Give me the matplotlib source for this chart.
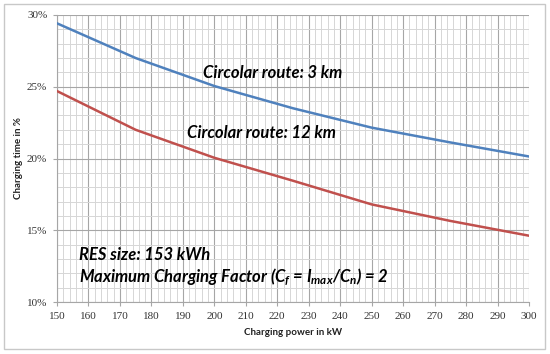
import matplotlib
matplotlib.use("Agg")
import matplotlib.pyplot as plt
from matplotlib.ticker import MultipleLocator, FuncFormatter
from matplotlib.patches import Rectangle

power_kw = [150, 175, 200, 225, 250, 275, 300]
route_3km = [29.42, 27.0, 25.05, 23.5, 22.15, 21.12, 20.14]
route_12km = [24.7, 22.0, 20.05, 18.45, 16.8, 15.65, 14.62]

label_3km = "Circolar route: 3 km"
label_12km = "Circolar route: 12 km"
note_res = "RES size: 153 kWh"
note_cf = r"Maximum Charging Factor ($C_f$ = $I_{max}$/$C_n$) = 2"
xlabel = "Charging power in kW"
ylabel = "Charging time in %"

plt.rcParams['mathtext.fontset'] = 'custom'
plt.rcParams['mathtext.it'] = 'Lato:italic:bold'
plt.rcParams['mathtext.rm'] = 'Lato:italic:bold'
plt.rcParams['mathtext.bf'] = 'Lato:italic:bold'

fig = plt.figure(figsize=(5.5, 3.54), dpi=100)
fig.patch.set_facecolor('white')
fig.patches.append(Rectangle((4/550, 1-349/354), 541/550, 345/354, transform=fig.transFigure,
                             fill=False, edgecolor='#c8c8c8', linewidth=1.0))

ax = fig.add_axes([57/550, 1-302/354, 472/550, 287/354])
ax.plot(power_kw, route_3km, color='#4F81BD', linewidth=1.8, zorder=3)
ax.plot(power_kw, route_12km, color='#C0504D', linewidth=1.8, zorder=3)

ax.set_xlim(150, 300)
ax.set_ylim(10, 30)
ax.xaxis.set_major_locator(MultipleLocator(10))
ax.xaxis.set_minor_locator(MultipleLocator(2))
ax.yaxis.set_major_locator(MultipleLocator(5))
ax.yaxis.set_minor_locator(MultipleLocator(1))
ax.yaxis.set_major_formatter(FuncFormatter(lambda v, p: f"{int(round(v))}%"))

ax.grid(which='major', color='#a6a6a6', linewidth=0.8, zorder=1)
ax.grid(which='minor', color='#d6d6d6', linewidth=0.7, zorder=0)
ax.set_axisbelow(True)
for s in ['top', 'right']:
    ax.spines[s].set_visible(False)
for s in ['left', 'bottom']:
    ax.spines[s].set_color('#a6a6a6')
    ax.spines[s].set_linewidth(0.8)

ax.tick_params(which='major', length=3, color='#a6a6a6', labelsize=8, pad=4)
ax.tick_params(which='minor', length=0)
for lab in ax.get_xticklabels() + ax.get_yticklabels():
    lab.set_family('Liberation Serif')
    lab.set_color('#333333')

ax.set_xlabel(xlabel, fontsize=7, fontweight='bold', family='Lato', color='#202020', labelpad=5)
ax.set_ylabel(ylabel, fontsize=7, fontweight='bold', family='Lato', color='#202020', labelpad=3)

tk = dict(fontsize=12, fontweight='bold', style='italic', family='Lato', color='black', zorder=4)
ax.text(196.4, 25.96, label_3km, va='center', ha='left', **tk)
ax.text(191.3, 21.8, label_12km, va='center', ha='left', **tk)
ax.text(157.0, 13.27, note_res, va='center', ha='left', **tk)
ax.text(157.0, 11.74, note_cf, va='center', ha='left', **tk)

fig.savefig('out.png', dpi=100, facecolor='white')
